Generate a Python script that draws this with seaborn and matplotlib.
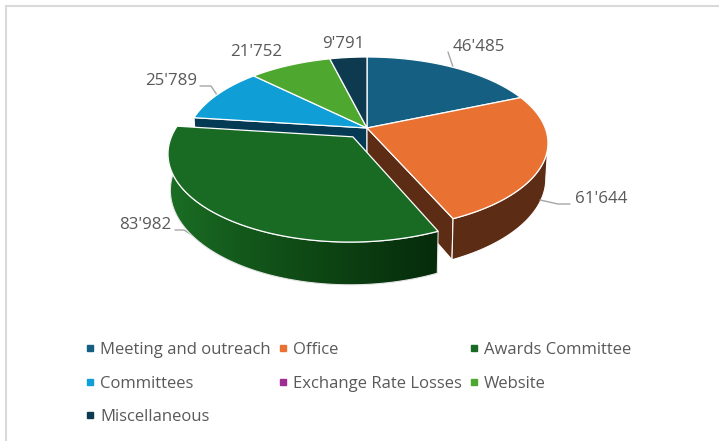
#!/usr/bin/env python3

import numpy as np
import matplotlib.pyplot as plt
import seaborn as sns
from matplotlib.colors import LinearSegmentedColormap
from matplotlib.lines import Line2D
from matplotlib.patches import Polygon

# data
categories = ['Meeting and outreach', 'Office', 'Awards Committee', 'Committees',
              'Exchange Rate Losses', 'Website', 'Miscellaneous']
values = [46485, 61644, 83982, 25789, 0, 21752, 9791]
value_labels = ["46'485", "61'644", "83'982", "25'789", "", "21'752", "9'791"]
colors = ['#156082', '#E97132', '#196B24', '#0F9ED5', '#A02B93', '#4EA72E', '#0D3A4E']

# pie geometry in pixels (perspective view of a tilted disc)
CX, CY = 367, 128
RX, RY = 178.2, 83.4
PERSP = 0.1744
DEPTH = 34.5
BOTTOM_SHRINK = 0.988
EXPLODE = 0.13
TEXT = '#595959'

sns.set_theme(style='white')
plt.rcParams['font.family'] = ['Open Sans', 'DejaVu Sans']
palette = sns.color_palette(colors)


def project(wx, wy, bottom=False):
    scale = 1 / (1 + PERSP * wy)
    sx = CX + RX * wx * scale * (BOTTOM_SHRINK if bottom else 1)
    sy = CY - RY * wy * scale
    if bottom:
        sy = sy + DEPTH * scale
    return np.column_stack([sx, sy])


def rim(a0, a1, off=(0, 0), bottom=False):
    t = np.radians(np.linspace(a0, a1, max(int(abs(a1 - a0) * 2), 2)))
    return project(np.sin(t) + off[0], np.cos(t) + off[1], bottom)


def apex(off=(0, 0), bottom=False):
    return project(np.array([off[0]]), np.array([off[1]]), bottom)


def top_face(a0, a1, off, color, zorder=3):
    pts = np.vstack([apex(off), rim(a0, a1, off)])
    ax.add_patch(Polygon(pts, closed=True, fc=color, ec='white', lw=0.9, zorder=zorder))


def cut_wall(a, off, color):
    t = np.radians(a)
    edge_top = project(np.array([np.sin(t) + off[0]]), np.array([np.cos(t) + off[1]]))
    edge_bot = project(np.array([np.sin(t) + off[0]]), np.array([np.cos(t) + off[1]]), True)
    pts = np.vstack([apex(off), edge_top, edge_bot, apex(off, True)])
    ax.add_patch(Polygon(pts, closed=True, fc=color, ec='white', lw=0.8, zorder=1))


fig, ax = plt.subplots(figsize=(7.19, 4.41))
fig.subplots_adjust(0, 0, 1, 1)
ax.axis('off')

# slide border, top and left only
ax.add_line(Line2D([5.5, 719], [5.5, 5.5], color='#d9d9d9', lw=1.5))
ax.add_line(Line2D([5.5, 5.5], [5.5, 441], color='#d9d9d9', lw=1.5))

# wedge angles, clockwise from the top
edges = np.concatenate([[0], np.cumsum(values)]) / np.sum(values) * 360
a0_office, a1_office = edges[1], edges[2]
a0_award, a1_award = edges[2], edges[3]
mid = np.radians((a0_award + a1_award) / 2)
award_off = (EXPLODE * np.sin(mid), EXPLODE * np.cos(mid))

# walls behind the exploded slice
cut_wall(a1_award, (0, 0), '#053A55')
cut_wall(a1_office, (0, 0), '#5C2C14')
top = rim(100, a1_office)
bot = rim(100, a1_office, bottom=True)
ax.add_patch(Polygon(np.vstack([top, bot[::-1]]), closed=True, fc='#5C2C14', ec='white',
                     lw=0.8, zorder=2))

# outer wall of the exploded slice, shaded left to right
wall_pts = np.vstack([rim(a1_award, a0_award, award_off),
                      rim(a1_award, a0_award, award_off, True)[::-1]])
wall_cmap = LinearSegmentedColormap.from_list('wall', ['#1B6E24', '#145A1C', '#0F4A15',
                                                       '#0B3A10', '#052B0A'])
wall_left, wall_right = wall_pts[:, 0].min(), wall_pts[:, 0].max()
wall_im = ax.imshow(np.linspace(0, 1, 256)[None, :], cmap=wall_cmap, aspect='auto',
                    extent=(wall_left, wall_right, wall_pts[:, 1].max(), wall_pts[:, 1].min()),
                    zorder=4)
wall_patch = Polygon(wall_pts, closed=True, fill=False, ec='#e4e4e4', lw=0.8, zorder=4)
ax.add_patch(wall_patch)
wall_im.set_clip_path(wall_patch)

# top faces, exploded slice last
for i, val in enumerate(values):
    if val > 0 and i != 2:
        top_face(edges[i], edges[i + 1], (0, 0), palette[i])
top_face(a0_award, a1_award, award_off, palette[2], zorder=5)

# data labels and leader lines
label_pos = [(479, 47), (601, 199), (145, 225), (171, 81), None, (256, 52), (343, 44)]
for lab, pos in zip(value_labels, label_pos):
    if pos is not None:
        ax.text(pos[0], pos[1], lab, color=TEXT, fontsize=12.2, ha='center', va='center', zorder=6)
leaders = [([448, 453], [52, 67]),
           ([540, 558, 570], [200, 204, 204]),
           ([200, 211, 217], [86, 86, 95]),
           ([175, 184, 228], [230, 230, 257])]
for xs, ys in leaders:
    ax.plot(xs, ys, color='#a6a6a6', lw=1.0, zorder=2)

ax.set_xlim(0, 719)
ax.set_ylim(441, 0)

# legend, filled column by column
order = [0, 3, 6, 1, 4, 2, 5]
handles = [Line2D([], [], ls='', marker='s', ms=4.2, mfc=palette[i], mec=palette[i],
                  label=categories[i]) for i in order]
ax.legend(handles=handles, ncol=3, frameon=False, loc='upper left',
          bbox_to_anchor=(85 / 719, 1 - 342 / 441), fontsize=12, labelcolor=TEXT,
          handlelength=0.6, handletextpad=0.3, labelspacing=1.05, columnspacing=0.42,
          borderpad=0, borderaxespad=0)

plt.savefig('out.png', dpi=100)
